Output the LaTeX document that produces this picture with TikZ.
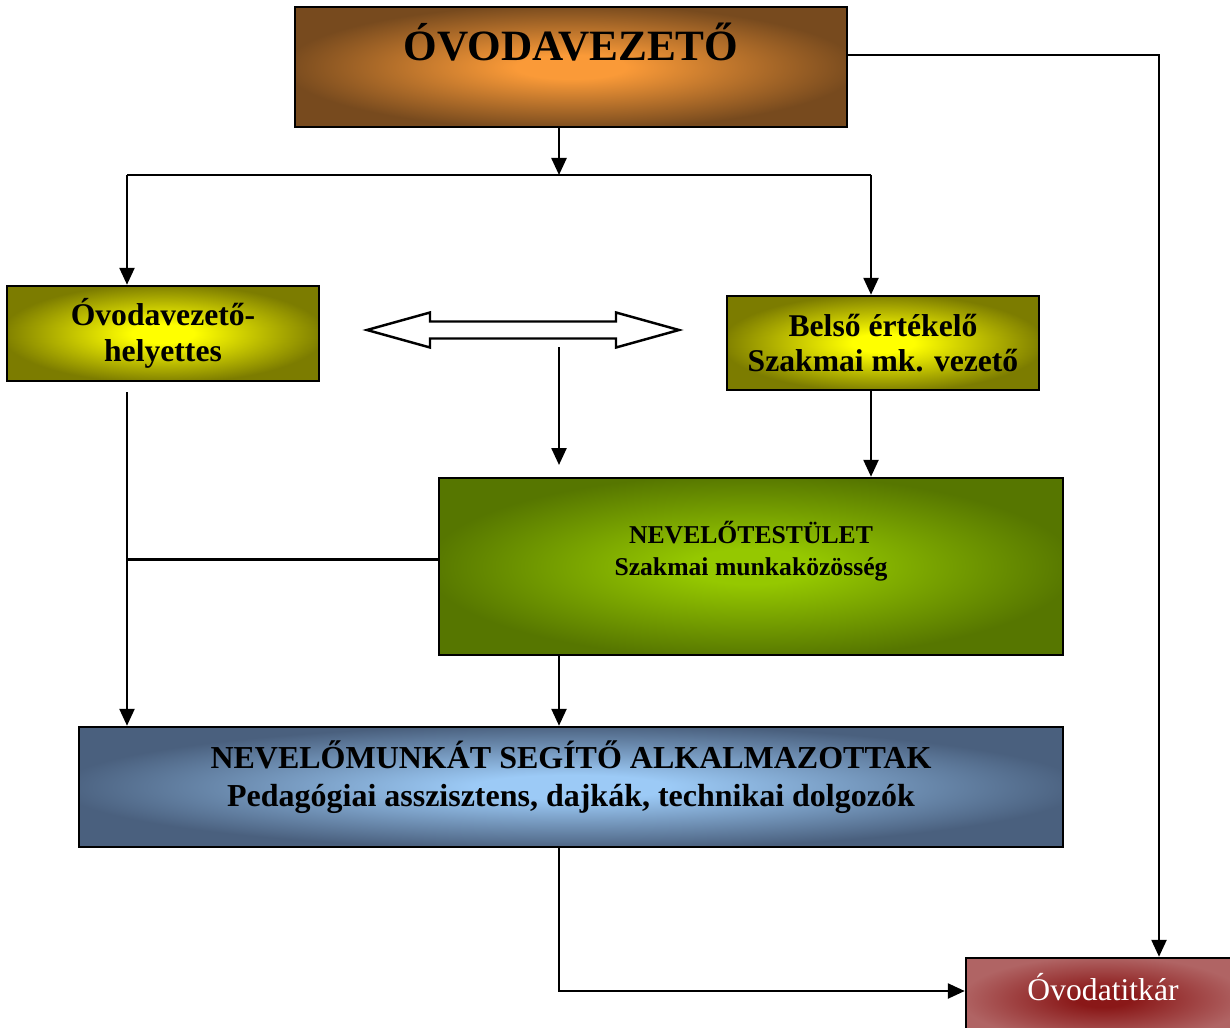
\documentclass[tikz,border=0pt]{standalone}
\usepackage{fontspec}
\setmainfont{Liberation Serif}
\usetikzlibrary{arrows.meta}

\definecolor{glowin}{HTML}{FFFFFF}
\definecolor{glowout}{HTML}{000000}
\pgfdeclareradialshading[glowin,glowout]{glow}{\pgfpoint{0bp}{0bp}}{%
  color(0bp)=(glowin); color(5bp)=(glowin); color(26bp)=(glowout); color(50bp)=(glowout)}

\definecolor{leaderin}{HTML}{FA9A38}
\definecolor{leaderout}{HTML}{774A1E}
\definecolor{deputyin}{HTML}{FFFF00}
\definecolor{deputyout}{HTML}{7C7C00}
\definecolor{staffin}{HTML}{95C800}
\definecolor{staffout}{HTML}{567600}
\definecolor{helperin}{HTML}{9CCAF6}
\definecolor{helperout}{HTML}{4A607E}
\definecolor{clerkin}{HTML}{8A1818}
\definecolor{clerkout}{HTML}{B06464}

\begin{document}
\begin{tikzpicture}[
    box/.style={
        draw=black,
        line width=0.7pt,
        inner sep=0pt,
        align=center
    },
    glowbox/.style 2 args={
        shade,
        shading=glow,
        /utils/exec={\colorlet{glowin}{#1}\colorlet{glowout}{#2}}
    },
    bigtext/.style={font=\bfseries\fontsize{12.3}{14}\selectfont},
    midtext/.style={font=\bfseries\fontsize{9}{10.2}\selectfont},
    smalltext/.style={font=\bfseries\fontsize{7.3}{9}\selectfont},
    widetext/.style={font=\bfseries\fontsize{9.1}{11}\selectfont},
    clerktext/.style={font=\fontsize{9}{11}\selectfont, text=white},
    arrow/.style={line width=0.7pt, -{Triangle[length=0.17cm, width=0.15cm]}},
    plainline/.style={line width=0.7pt},
    hollow/.style={draw=black, line width=0.7pt, fill=white}
]
\path[use as bounding box, clip] (0,0) rectangle (12.3,-10.28);

\node[box, glowbox={leaderin}{leaderout}, minimum width=5.52cm, minimum height=1.20cm,
    label={[bigtext, yshift=0.25cm]center:ÓVODAVEZETŐ}] (vezeto) at (5.71,-0.67) {};

\node[box, glowbox={deputyin}{deputyout}, midtext, minimum width=3.12cm, minimum height=0.95cm]
    (helyettes) at (1.63,-3.335) {Óvodavezető-\\helyettes};
\node[box, glowbox={deputyin}{deputyout}, midtext, minimum width=3.12cm, minimum height=0.94cm]
    (ertekelo) at (8.83,-3.43) {Belső értékelő\\Szakmai mk. vezető};

\node[box, glowbox={staffin}{staffout}, minimum width=6.24cm, minimum height=1.77cm,
    label={[smalltext, align=center, yshift=0.15cm]center:NEVELŐTESTÜLET\\Szakmai munkaközösség}]
    (testulet) at (7.51,-5.665) {};

\node[box, glowbox={helperin}{helperout}, minimum width=9.84cm, minimum height=1.20cm,
    label={[widetext, align=center, yshift=0.10cm]center:NEVELŐMUNKÁT SEGÍTŐ ALKALMAZOTTAK\\Pedagógiai asszisztens, dajkák, technikai dolgozók}]
    (alkalmazott) at (5.71,-7.87) {};

\node[box, glowbox={clerkin}{clerkout}, minimum width=2.74cm, minimum height=0.82cm,
    label={[clerktext, yshift=0.12cm]center:Óvodatitkár}] (titkar) at (11.03,-9.99) {};

% junction points
\coordinate (split) at (5.59,-1.75);
\coordinate (splitL) at (1.27,-1.75);
\coordinate (splitR) at (8.71,-1.75);
\coordinate (leftdown) at (1.27,-3.92);
\coordinate (midtop) at (5.59,-3.47);
\coordinate (midbot) at (5.59,-4.65);
\coordinate (rightcol) at (11.59,-0.55);
\coordinate (joinpt) at ([yshift=0.07cm]testulet.west);

% exchange arrow
\draw[hollow] (3.67,-3.30) -- (4.30,-3.125) -- (4.30,-3.215) -- (6.16,-3.215) -- (6.16,-3.125)
    -- (6.79,-3.30) -- (6.16,-3.475) -- (6.16,-3.385) -- (4.30,-3.385) -- (4.30,-3.475) -- cycle;

\draw[arrow] (split |- vezeto.south) -- (split);
\draw[plainline] (splitL) -- (splitR);
\draw[arrow] (splitL) -- (splitL |- helyettes.north);
\draw[arrow] (splitR) -- (splitR |- ertekelo.north);

\draw[arrow] (midtop) -- (midbot);
\draw[arrow] (splitR |- ertekelo.south) -- (splitR |- testulet.north);

\draw[arrow] (leftdown) -- (leftdown |- alkalmazott.north);
\draw[plainline] (joinpt) -- (leftdown |- joinpt);
\draw[arrow] (split |- testulet.south) -- (split |- alkalmazott.north);

\draw[arrow] (split |- alkalmazott.south) |- ([yshift=0.08cm]titkar.west);
\draw[arrow] (vezeto.east |- rightcol) -| (rightcol |- titkar.north);

\end{tikzpicture}
\end{document}
